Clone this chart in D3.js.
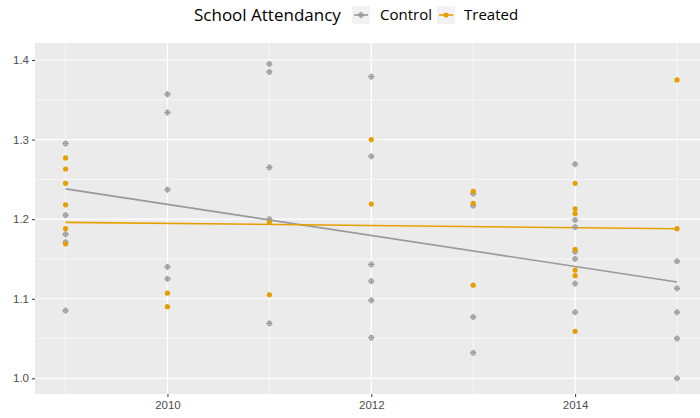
<!doctype html>
<html lang="en">
 <head>
   <meta charset="UTF-8">
   <title>School Attendancy</title>
   <script src="https://d3js.org/d3.v7.min.js"></script>
   <style>
     body { margin: 0; background: #fff; }
   </style>
 </head>
 <body>
   <div id="myDiv"></div>

 <script type="text/javascript">

   // values
   let controlYears = [2009, 2009, 2009, 2009, 2009,
                       2010, 2010, 2010, 2010, 2010,
                       2011, 2011, 2011, 2011, 2011,
                       2012, 2012, 2012, 2012, 2012, 2012,
                       2013, 2013, 2013, 2013,
                       2014, 2014, 2014, 2014, 2014, 2014, 2014,
                       2015, 2015, 2015, 2015, 2015];
   let controlValues = [1.295, 1.205, 1.181, 1.171, 1.085,
                        1.357, 1.334, 1.237, 1.140, 1.125,
                        1.395, 1.385, 1.265, 1.200, 1.069,
                        1.379, 1.279, 1.143, 1.122, 1.098, 1.051,
                        1.232, 1.217, 1.077, 1.032,
                        1.269, 1.199, 1.190, 1.159, 1.150, 1.119, 1.083,
                        1.147, 1.113, 1.083, 1.050, 1.000];
   let treatedYears = [2009, 2009, 2009, 2009, 2009, 2009,
                       2010, 2010,
                       2011, 2011,
                       2012, 2012,
                       2013, 2013, 2013,
                       2014, 2014, 2014, 2014, 2014, 2014, 2014,
                       2015, 2015];
   let treatedValues = [1.277, 1.263, 1.245, 1.218, 1.188, 1.169,
                        1.107, 1.090,
                        1.196, 1.105,
                        1.300, 1.219,
                        1.235, 1.220, 1.117,
                        1.245, 1.213, 1.207, 1.162, 1.136, 1.129, 1.059,
                        1.375, 1.188];
   // linear fit lines (ends at 2009 and 2015)
   let fitYears = [2009, 2015];
   let controlFit = [1.238, 1.121];
   let treatedFit = [1.196, 1.188];

   let xTicks = [2010, 2012, 2014];
   let xMinor = [2009, 2011, 2013, 2015];
   let yTicks = [1.0, 1.1, 1.2, 1.3, 1.4];
   let yMinor = [1.05, 1.15, 1.25, 1.35];
   let seriesNames = ["Control", "Treated"];
   let seriesColors = ["#999999", "#E69F00"];

   let width = 700, height = 418;
   let panel = {left: 35, top: 43, right: 700, bottom: 394};

   let svgContainer = d3.select("#myDiv").append("svg")
      .attr("width", width)
      .attr("height", height)
      .style("display", "block");

   let x = d3.scaleLinear().domain([2008.7, 2015.3]).range([35, 707.6]);
   let y = d3.scaleLinear().domain([1.0, 1.4]).range([378.3, 60]);

   // panel background
   svgContainer.append("rect")
      .attr("x", panel.left).attr("y", panel.top)
      .attr("width", panel.right - panel.left)
      .attr("height", panel.bottom - panel.top)
      .attr("fill", "#EBEBEB");

   let grid = svgContainer.append("g");
   grid.selectAll(".ymin").data(yMinor).enter().append("line")
      .attr("x1", panel.left).attr("x2", panel.right)
      .attr("y1", d => y(d)).attr("y2", d => y(d))
      .attr("stroke", "#fff").attr("stroke-width", 0.6);
   grid.selectAll(".xmin").data(xMinor).enter().append("line")
      .attr("y1", panel.top).attr("y2", panel.bottom)
      .attr("x1", d => x(d)).attr("x2", d => x(d))
      .attr("stroke", "#fff").attr("stroke-width", 0.6);
   grid.selectAll(".ymaj").data(yTicks).enter().append("line")
      .attr("x1", panel.left).attr("x2", panel.right)
      .attr("y1", d => y(d)).attr("y2", d => y(d))
      .attr("stroke", "#fff").attr("stroke-width", 1.2);
   grid.selectAll(".xmaj").data(xTicks).enter().append("line")
      .attr("y1", panel.top).attr("y2", panel.bottom)
      .attr("x1", d => x(d)).attr("x2", d => x(d))
      .attr("stroke", "#fff").attr("stroke-width", 1.2);

   // axes
   let xAxis = svgContainer.append("g")
      .attr("transform", "translate(0," + panel.bottom + ")")
      .call(d3.axisBottom(x).tickValues(xTicks).tickFormat(d3.format("d")).tickSize(3).tickPadding(4));
   let yAxis = svgContainer.append("g")
      .attr("transform", "translate(" + panel.left + ",0)")
      .call(d3.axisLeft(y).tickValues(yTicks).tickFormat(d3.format(".1f")).tickSize(3).tickPadding(3));
   [xAxis, yAxis].forEach(function(a) {
     a.select(".domain").remove();
     a.selectAll(".tick line").attr("stroke", "#333333");
     a.selectAll(".tick text")
        .attr("fill", "#4D4D4D")
        .attr("font-family", "Liberation Sans, Arial, sans-serif")
        .attr("font-size", "11.5px");
   });

   // invisible (white) y title
   svgContainer.append("text")
      .attr("transform", "translate(11,219) rotate(-90)")
      .attr("text-anchor", "middle")
      .attr("font-family", "Liberation Sans, Arial, sans-serif")
      .attr("font-size", "12px")
      .attr("fill", "#fff")
      .text("Attendance");

   let plot = svgContainer.append("g");

   // fit lines
   let line = d3.line().x(d => x(d[0])).y(d => y(d[1]));
   plot.append("path")
      .attr("d", line(d3.zip(fitYears, controlFit)))
      .attr("fill", "none").attr("stroke", seriesColors[0]).attr("stroke-width", 1.6);
   plot.append("path")
      .attr("d", line(d3.zip(fitYears, treatedFit)))
      .attr("fill", "none").attr("stroke", seriesColors[1]).attr("stroke-width", 1.6);

   // control points: circle with plus
   function crossPoint(g, cx, cy, col) {
     g.append("circle").attr("cx", cx).attr("cy", cy).attr("r", 2.4)
        .attr("fill", col).attr("fill-opacity", 0.45)
        .attr("stroke", col).attr("stroke-width", 0.8);
     g.append("path")
        .attr("d", "M" + (cx - 3) + "," + cy + "H" + (cx + 3) + "M" + cx + "," + (cy - 3) + "V" + (cy + 3))
        .attr("stroke", col).attr("stroke-width", 1);
   }
   d3.zip(controlYears, controlValues).forEach(function(d) {
     crossPoint(plot, x(d[0]), y(d[1]), seriesColors[0]);
   });
   plot.selectAll(".treated").data(d3.zip(treatedYears, treatedValues)).enter()
      .append("circle")
        .attr("cx", d => x(d[0]))
        .attr("cy", d => y(d[1]))
        .attr("r", 2.6)
        .attr("fill", seriesColors[1]);

   // legend
   let legend = svgContainer.append("g");
   legend.append("text")
      .attr("x", 194).attr("y", 21)
      .attr("font-family", "Open Sans, sans-serif")
      .attr("font-size", "17px")
      .attr("fill", "#000")
      .text("School Attendancy");
   let keyX = [352, 437];
   let labelX = [380, 464];
   seriesNames.forEach(function(name, i) {
     legend.append("rect")
        .attr("x", keyX[i]).attr("y", 6).attr("width", 18).attr("height", 18)
        .attr("fill", "#F2F2F2");
     legend.append("line")
        .attr("x1", keyX[i] + 2).attr("x2", keyX[i] + 16)
        .attr("y1", 15).attr("y2", 15)
        .attr("stroke", seriesColors[i]).attr("stroke-width", 1.6);
     if (i === 0) {
       crossPoint(legend, keyX[i] + 9, 15, seriesColors[i]);
     } else {
       legend.append("circle").attr("cx", keyX[i] + 9).attr("cy", 15).attr("r", 2.6)
          .attr("fill", seriesColors[i]);
     }
     legend.append("text")
        .attr("x", labelX[i]).attr("y", 20)
        .attr("font-family", "Open Sans, sans-serif")
        .attr("font-size", "15px")
        .attr("fill", "#000")
        .text(name);
   });
 </script>
</body>
</html>
